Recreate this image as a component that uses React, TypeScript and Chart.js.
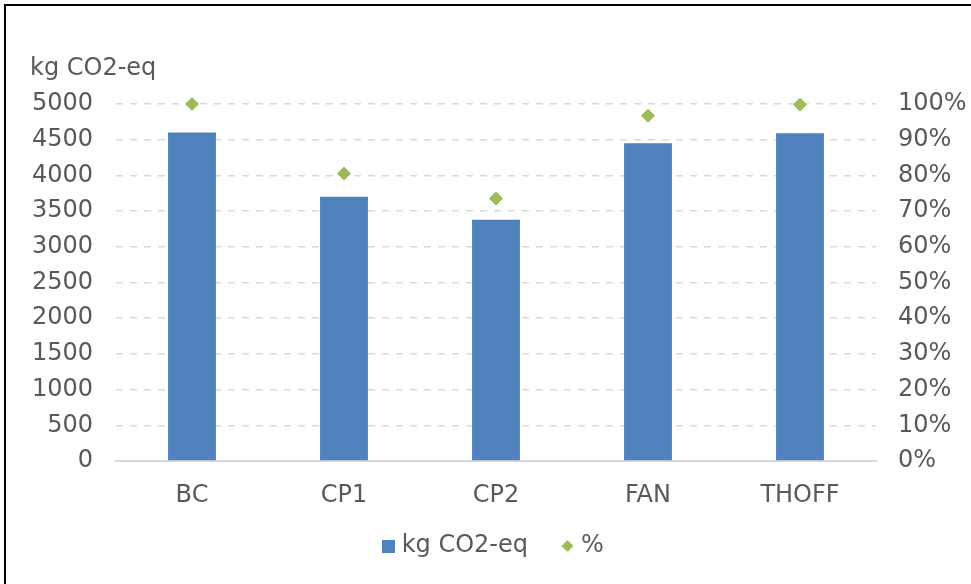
import React, { useEffect, useRef } from "react";
import { Chart, registerables } from "chart.js";

Chart.register(...registerables);

// ---- data ----
const categories = ["BC", "CP1", "CP2", "FAN", "THOFF"];
const co2Values = [4600, 3700, 3380, 4450, 4590];
const percentValues = [1.0, 0.805, 0.735, 0.967, 0.998];
const seriesLabels = ["kg CO2-eq", "%"];
const unitLabel = "kg CO2-eq";
const leftAxisRange = [0, 5000, 500];
const rightAxisRange = [0, 1, 0.1];

// ---- style ----
const FONT_FAMILY = "'DejaVu Sans', Verdana, sans-serif";
const FONT_SIZE = 24;
const TEXT_COLOR = "#595959";
const BAR_COLOR = "#4F81BD";
const DIAMOND_COLOR = "#9BBB59";
const GRID_COLOR = "#D9D9D9";

function makeSquare(size: number, color: string) {
  const c = document.createElement("canvas");
  c.width = size;
  c.height = size;
  const g = c.getContext("2d")!;
  g.fillStyle = color;
  g.fillRect(0, 0, size, size);
  return c;
}

function makeDiamond(size: number, color: string) {
  const c = document.createElement("canvas");
  c.width = size;
  c.height = size;
  const g = c.getContext("2d")!;
  g.fillStyle = color;
  g.beginPath();
  g.moveTo(size / 2, 0);
  g.lineTo(size, size / 2);
  g.lineTo(size / 2, size);
  g.lineTo(0, size / 2);
  g.closePath();
  g.fill();
  return c;
}

const unitLabelPlugin = {
  id: "unitLabel",
  afterLayout(chart: any) {
    // let the category labels extend below the (short) x-axis box without clipping
    const s = chart.scales.x;
    s.bottom = s.top + 52;
    s.height = 52;
  },
  afterDraw(chart: any) {
    const ctx = chart.ctx;
    ctx.save();
    ctx.font = `${FONT_SIZE}px ${FONT_FAMILY}`;
    ctx.fillStyle = TEXT_COLOR;
    ctx.textAlign = "left";
    ctx.textBaseline = "alphabetic";
    ctx.fillText(unitLabel, 30, chart.chartArea.top - 29);
    ctx.restore();
  },
};

export default function App() {
  const canvasRef = useRef<HTMLCanvasElement | null>(null);

  useEffect(() => {
    if (!canvasRef.current) return;
    const square = makeSquare(13, BAR_COLOR);
    const diamond = makeDiamond(12, DIAMOND_COLOR);

    const chart = new Chart(canvasRef.current, {
      type: "bar",
      data: {
        labels: categories,
        datasets: [
          {
            type: "bar",
            label: seriesLabels[0],
            data: co2Values,
            backgroundColor: BAR_COLOR,
            borderWidth: 0,
            barPercentage: 0.315,
            categoryPercentage: 1,
            yAxisID: "y",
          },
          {
            type: "line",
            label: seriesLabels[1],
            data: percentValues,
            showLine: false,
            clip: false,
            pointStyle: "rectRot",
            pointRadius: 6.5,
            pointBackgroundColor: DIAMOND_COLOR,
            pointBorderColor: DIAMOND_COLOR,
            pointBorderWidth: 1,
            backgroundColor: DIAMOND_COLOR,
            borderColor: DIAMOND_COLOR,
            yAxisID: "y1",
          } as any,
        ],
      },
      options: {
        animation: false,
        responsive: false,
        layout: {
          padding: { top: 104, left: 19.4, right: 0, bottom: 16 },
        },
        plugins: {
          tooltip: { enabled: false },
          legend: {
            display: true,
            position: "bottom",
            labels: {
              usePointStyle: true,
              pointStyleWidth: 3,
              padding: 38,
              color: TEXT_COLOR,
              font: { family: FONT_FAMILY, size: FONT_SIZE },
              generateLabels: (c: any) => {
                const items = (Chart.defaults.plugins.legend.labels as any).generateLabels(c);
                items[0].pointStyle = square;
                items[1].pointStyle = diamond;
                items.forEach((it: any) => (it.fontColor = TEXT_COLOR));
                return items;
              },
            },
          },
        },
        scales: {
          x: {
            grid: { display: false, drawTicks: false },
            border: { display: true, color: GRID_COLOR, width: 2 },
            ticks: {
              color: TEXT_COLOR,
              font: { family: FONT_FAMILY, size: FONT_SIZE },
              padding: 20.5,
              maxRotation: 0,
            },
            afterFit: (scale: any) => {
              scale.height = 35;
            },
          },
          y: {
            position: "left",
            min: leftAxisRange[0],
            max: leftAxisRange[1],
            grid: { color: GRID_COLOR, lineWidth: 1.5, drawTicks: false },
            border: { display: false, dash: [7, 7] },
            ticks: {
              stepSize: leftAxisRange[2],
              color: TEXT_COLOR,
              font: { family: FONT_FAMILY, size: FONT_SIZE },
              padding: 23,
              callback: (v: any) => String(v),
            },
            afterFit: (scale: any) => {
              scale.width = 96.6;
            },
          },
          y1: {
            position: "right",
            min: rightAxisRange[0],
            max: rightAxisRange[1],
            grid: { display: false, drawTicks: false },
            border: { display: false },
            ticks: {
              stepSize: rightAxisRange[2],
              color: TEXT_COLOR,
              font: { family: FONT_FAMILY, size: FONT_SIZE },
              padding: 22,
              callback: (v: any) => Math.round(Number(v) * 100) + "%",
            },
            afterFit: (scale: any) => {
              scale.width = 95;
            },
          },
        },
      },
      plugins: [unitLabelPlugin],
    });

    return () => chart.destroy();
  }, []);

  return (
    <>
      <div
        style={{
          position: "fixed",
          left: 4,
          top: 4,
          width: 967,
          height: 580,
          borderTop: "2px solid #000",
          borderLeft: "2px solid #000",
          boxSizing: "border-box",
          background: "#fff",
        }}
      />
      <div style={{ position: "fixed", left: 0, top: 0, width: 971, height: 584 }}>
        <canvas
          ref={canvasRef}
          width={971}
          height={584}
          style={{ width: 971, height: 584, display: "block" }}
        />
      </div>
    </>
  );
}
